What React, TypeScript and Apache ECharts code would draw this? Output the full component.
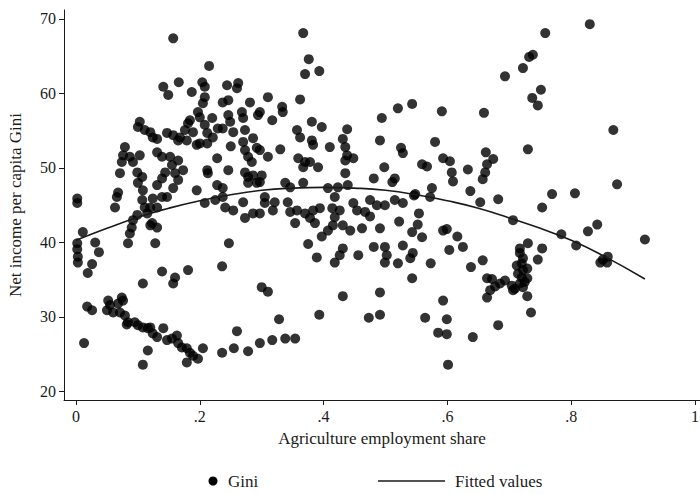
import React, { useEffect, useRef } from "react";
import * as echarts from "echarts";

// Gini (net income per capita) against agriculture employment share, one point per observation.
const pointsNearZero: [number, number][] = [
  [0.002, 45.9], [0.002, 45.3], [0.002, 39.9], [0.002, 39.1], [0.003, 38.1], [0.003, 37.3],
  [0.011, 41.4], [0.026, 37.1], [0.019, 35.9], [0.018, 31.4], [0.026, 30.9], [0.013, 26.5],
];

const pointsLowShareUpper: [number, number][] = [
  [0.157, 67.4], [0.141, 60.9], [0.166, 61.5], [0.149, 59.8], [0.187, 60.2], [0.197, 57.5],
  [0.103, 56.2], [0.1, 55.5], [0.111, 55.1], [0.12, 54.8], [0.124, 54.1], [0.131, 53.9],
  [0.147, 54.7], [0.157, 54.4], [0.168, 54.1], [0.176, 55.1], [0.181, 56.0], [0.184, 56.4],
  [0.189, 54.8], [0.179, 53.7], [0.195, 53.1], [0.165, 53.7],
  [0.079, 52.8], [0.076, 51.7], [0.074, 50.8], [0.071, 49.3], [0.087, 51.5], [0.092, 50.8],
  [0.103, 51.7], [0.099, 49.4], [0.107, 48.8], [0.1, 48.0], [0.108, 47.0], [0.107, 45.7],
  [0.111, 44.7], [0.115, 43.9], [0.099, 43.7], [0.092, 43.0], [0.09, 42.0], [0.087, 41.2],
  [0.084, 39.9], [0.123, 42.6], [0.131, 42.0], [0.128, 39.9], [0.063, 44.7], [0.066, 46.1],
  [0.068, 46.7], [0.031, 40.0], [0.037, 38.7],
  [0.131, 52.1], [0.139, 51.5], [0.152, 51.5], [0.165, 51.0], [0.155, 50.4], [0.144, 49.4],
  [0.16, 49.3], [0.173, 49.7], [0.165, 48.4], [0.157, 47.3], [0.139, 48.6], [0.131, 47.7],
  [0.139, 46.1], [0.124, 45.9], [0.12, 44.7], [0.131, 44.7], [0.147, 46.1], [0.195, 47.0],
  [0.12, 42.3],
];

const pointsLowShareLower: [number, number][] = [
  [0.052, 32.2], [0.055, 31.6], [0.05, 30.9], [0.074, 32.6], [0.068, 31.8], [0.076, 32.2],
  [0.06, 30.6], [0.071, 30.6], [0.079, 30.2], [0.084, 29.3], [0.082, 29.0], [0.095, 29.3],
  [0.1, 28.9], [0.108, 28.6], [0.116, 28.5], [0.12, 28.6], [0.124, 27.8], [0.131, 27.3],
  [0.141, 28.5], [0.147, 26.9], [0.155, 27.1], [0.163, 27.5], [0.165, 26.5], [0.171, 25.9],
  [0.179, 25.8], [0.184, 25.2], [0.189, 24.8], [0.197, 24.4], [0.179, 23.9], [0.205, 25.8],
  [0.116, 25.5], [0.108, 23.6], [0.108, 34.5], [0.139, 36.1], [0.16, 35.3], [0.157, 34.5],
  [0.181, 36.3], [0.236, 36.8], [0.236, 25.2],
];

const pointsMidLeft: [number, number][] = [
  [0.215, 63.7], [0.204, 61.5], [0.208, 60.9], [0.244, 61.1], [0.262, 61.4], [0.26, 60.7],
  [0.208, 59.5], [0.205, 58.7], [0.237, 58.8], [0.246, 59.1], [0.281, 58.8], [0.31, 59.5],
  [0.333, 58.2], [0.334, 57.5], [0.317, 56.4], [0.297, 57.5], [0.294, 57.1], [0.268, 57.5],
  [0.27, 56.7], [0.246, 57.1], [0.249, 56.2], [0.237, 55.3], [0.2, 56.8], [0.208, 55.8],
  [0.212, 54.7], [0.2, 53.3], [0.221, 54.1], [0.229, 55.3], [0.254, 54.8], [0.273, 55.1],
  [0.27, 53.5], [0.286, 54.0], [0.273, 52.4], [0.278, 51.5], [0.292, 52.7], [0.297, 52.4],
  [0.284, 50.8], [0.31, 51.5], [0.33, 52.5], [0.25, 52.9], [0.228, 51.3], [0.212, 49.7],
  [0.213, 49.3], [0.246, 49.7], [0.273, 49.4], [0.278, 48.8], [0.286, 49.0], [0.3, 49.0],
  [0.297, 48.1], [0.278, 48.0], [0.228, 47.7], [0.237, 47.3], [0.338, 48.0], [0.346, 47.4],
  [0.208, 45.3], [0.225, 45.7], [0.241, 44.7], [0.254, 44.3], [0.27, 45.4], [0.273, 43.3],
  [0.286, 43.9], [0.297, 43.9], [0.305, 46.1], [0.305, 45.3], [0.321, 45.4], [0.318, 44.3],
  [0.342, 45.4], [0.346, 44.1], [0.354, 42.6], [0.247, 39.9], [0.357, 55.1], [0.22, 56.7],
  [0.212, 53.3], [0.237, 46.1], [0.292, 48.0],
  [0.3, 34.0], [0.31, 33.4], [0.328, 29.7], [0.26, 28.1], [0.255, 25.8], [0.278, 25.4],
  [0.297, 26.5], [0.317, 26.9], [0.338, 27.1], [0.354, 27.1],
];

const pointsMiddle: [number, number][] = [
  [0.367, 68.1], [0.376, 64.6], [0.37, 62.6], [0.393, 63.0], [0.362, 59.2],
  [0.381, 56.2], [0.397, 55.5], [0.438, 55.2], [0.362, 54.1], [0.381, 53.7], [0.383, 53.1],
  [0.41, 52.8], [0.431, 53.9], [0.435, 52.8], [0.438, 51.7], [0.435, 51.0], [0.448, 51.3],
  [0.359, 51.3], [0.37, 50.8], [0.367, 50.1], [0.378, 50.8], [0.391, 50.1], [0.435, 49.3],
  [0.367, 48.0], [0.407, 47.3], [0.423, 47.4], [0.439, 47.7], [0.418, 46.1],
  [0.357, 44.3], [0.37, 43.9], [0.383, 44.3], [0.394, 44.6], [0.378, 43.3], [0.386, 42.6],
  [0.414, 44.6], [0.426, 44.3], [0.418, 43.4], [0.415, 42.3], [0.407, 41.6], [0.397, 40.8],
  [0.431, 42.3], [0.443, 41.6], [0.462, 41.9], [0.448, 45.3], [0.454, 44.3], [0.467, 44.1],
  [0.475, 43.5], [0.475, 45.7], [0.486, 45.0], [0.499, 45.0], [0.515, 45.7], [0.528, 45.3],
  [0.546, 46.3], [0.575, 47.3], [0.572, 46.1], [0.554, 43.9], [0.522, 42.8], [0.491, 41.9],
  [0.552, 42.4], [0.543, 41.4], [0.559, 40.7],
  [0.375, 39.8], [0.389, 38.0], [0.431, 39.2], [0.426, 38.3], [0.418, 37.3], [0.456, 38.3],
  [0.481, 39.4], [0.499, 39.4], [0.502, 38.3], [0.499, 37.3], [0.52, 37.2], [0.528, 39.6],
  [0.544, 38.6], [0.54, 37.9], [0.573, 37.2], [0.543, 35.2],
  [0.491, 53.7], [0.494, 56.7], [0.52, 58.0], [0.543, 58.6], [0.525, 52.7], [0.528, 52.0],
  [0.498, 50.1], [0.481, 48.6], [0.511, 48.1], [0.515, 48.6], [0.559, 50.5], [0.567, 50.2],
  [0.58, 53.5], [0.591, 57.6], [0.593, 51.3], [0.593, 41.6], [0.548, 46.5],
  [0.393, 30.3], [0.431, 32.8], [0.473, 29.9], [0.491, 30.3], [0.491, 33.3],
  [0.593, 32.2], [0.564, 29.9], [0.599, 29.7], [0.585, 27.9], [0.599, 27.7], [0.601, 23.6],
];

const pointsHighShare: [number, number][] = [
  [0.738, 65.2], [0.732, 64.9], [0.722, 63.4], [0.693, 62.3], [0.751, 60.5], [0.737, 59.4],
  [0.746, 58.4], [0.73, 52.5], [0.659, 57.4],
  [0.604, 50.9], [0.607, 49.4], [0.609, 48.2], [0.633, 49.8], [0.662, 52.1], [0.674, 51.2],
  [0.664, 50.5], [0.661, 49.4], [0.657, 48.5], [0.637, 46.9], [0.682, 45.8], [0.653, 45.4],
  [0.641, 27.3], [0.682, 28.9], [0.735, 30.6], [0.729, 32.8],
  [0.599, 41.8], [0.616, 40.8], [0.625, 39.4], [0.603, 39.0], [0.638, 36.7], [0.657, 37.6],
  [0.706, 43.0], [0.753, 44.7], [0.753, 39.2], [0.746, 37.7], [0.73, 39.9], [0.717, 39.2],
  [0.664, 32.6], [0.669, 33.6], [0.677, 34.1], [0.685, 34.5], [0.693, 34.9], [0.704, 34.2],
  [0.709, 33.8], [0.717, 34.5], [0.722, 34.0], [0.72, 35.3], [0.722, 36.3], [0.72, 37.2],
  [0.722, 37.9], [0.717, 38.6], [0.729, 36.5], [0.729, 35.2], [0.664, 35.2], [0.672, 35.1],
  [0.714, 35.8], [0.725, 34.7], [0.712, 36.9], [0.706, 33.6],
  [0.784, 41.1], [0.808, 39.6], [0.827, 41.5], [0.842, 42.4], [0.847, 37.3], [0.858, 37.3],
  [0.859, 38.1], [0.851, 37.7], [0.919, 40.4],
  [0.758, 68.1], [0.83, 69.3], [0.868, 55.1], [0.874, 47.8], [0.806, 46.6], [0.769, 46.5],
];

// Fitted values of the quadratic fit, sampled along the share axis
const fittedShare = [0, 0.05, 0.1, 0.15, 0.2, 0.25, 0.3, 0.35, 0.4, 0.45, 0.5, 0.55, 0.6, 0.65, 0.7, 0.75, 0.8, 0.85, 0.919];
const fittedGini = [40.3, 41.9, 43.4, 44.6, 45.6, 46.4, 47.0, 47.3, 47.4, 47.3, 47.0, 46.4, 45.6, 44.6, 43.3, 41.9, 40.3, 38.3, 35.1];

const xTicks = [0, 0.2, 0.4, 0.6, 0.8, 1];
const yTicks = [20, 30, 40, 50, 60, 70];

const seriesNames = ["Gini", "Fitted values"];

const SERIF = '"Liberation Serif", "Times New Roman", serif';
const INK = "#1a1a1a";
const TITLE_SIZE = 17;
const TICK_SIZE = 16;

export default function App() {
  const ref = useRef<HTMLDivElement>(null);

  useEffect(() => {
    if (!ref.current) return;
    const chart = echarts.init(ref.current, undefined, { renderer: "svg" });

    const giniPoints = [
      ...pointsNearZero,
      ...pointsLowShareUpper,
      ...pointsLowShareLower,
      ...pointsMidLeft,
      ...pointsMiddle,
      ...pointsHighShare,
    ];
    const fitted = fittedShare.map((s, i) => [s, fittedGini[i]]);

    const legendY = 481;
    const legendText = { fontFamily: SERIF, fontSize: TITLE_SIZE, fill: INK, verticalAlign: "middle" as const };

    chart.setOption({
      animation: false,
      backgroundColor: "#ffffff",
      textStyle: { fontFamily: SERIF, color: INK },
      grid: { left: 64, right: 0, top: 10, bottom: 94, containLabel: false, outerBoundsMode: "none" },
      // Two-key legend below the axis title: a dot for the scatter, a rule for the fit
      graphic: [
        { type: "circle", shape: { cx: 213, cy: legendY, r: 4.5 }, style: { fill: "#000000" } },
        { type: "text", x: 228, y: legendY, style: { ...legendText, text: seriesNames[0] } },
        {
          type: "line",
          shape: { x1: 378, y1: legendY, x2: 445, y2: legendY },
          style: { stroke: INK, lineWidth: 1.6 },
        },
        { type: "text", x: 455, y: legendY, style: { ...legendText, text: seriesNames[1] } },
      ],
      xAxis: {
        type: "value",
        min: -0.0194,
        max: 1.008,
        name: "Agriculture employment share",
        nameLocation: "middle",
        nameGap: 30,
        nameTextStyle: { fontFamily: SERIF, fontSize: TITLE_SIZE, color: INK },
        axisLine: { show: true, onZero: false, lineStyle: { color: INK, width: 1 } },
        axisTick: { show: true, length: 5, customValues: xTicks, lineStyle: { color: INK } },
        axisLabel: {
          customValues: xTicks,
          showMaxLabel: true,
          showMinLabel: true,
          hideOverlap: false,
          fontFamily: SERIF,
          fontSize: TICK_SIZE,
          color: INK,
          margin: 8,
          formatter: (v: number) => (v === 0 ? "0" : v === 1 ? "1" : String(v).slice(1)),
        },
        splitLine: { show: false },
      },
      yAxis: {
        type: "value",
        min: 18.86,
        max: 71.2,
        name: "Net income per capita Gini",
        nameLocation: "middle",
        nameGap: 40,
        nameTextStyle: { fontFamily: SERIF, fontSize: TITLE_SIZE, color: INK },
        axisLine: { show: true, onZero: false, lineStyle: { color: INK, width: 1 } },
        axisTick: { show: true, length: 5, customValues: yTicks, lineStyle: { color: INK } },
        axisLabel: { customValues: yTicks, fontFamily: SERIF, fontSize: TICK_SIZE, color: INK, margin: 8 },
        splitLine: { show: false },
      },
      series: [
        {
          name: seriesNames[0],
          type: "scatter",
          data: giniPoints,
          symbol: "circle",
          symbolSize: 10,
          itemStyle: { color: "#000000" },
          z: 2,
        },
        {
          name: seriesNames[1],
          type: "line",
          data: fitted,
          smooth: true,
          symbol: "none",
          lineStyle: { color: INK, width: 1.6 },
          z: 3,
        },
      ],
    });

    return () => chart.dispose();
  }, []);

  // Pinned to the page's top-left corner so the body margin does not offset it
  return (
    <div
      ref={ref}
      style={{ position: "fixed", left: 0, top: 0, width: 700, height: 494, background: "#ffffff" }}
    />
  );
}
